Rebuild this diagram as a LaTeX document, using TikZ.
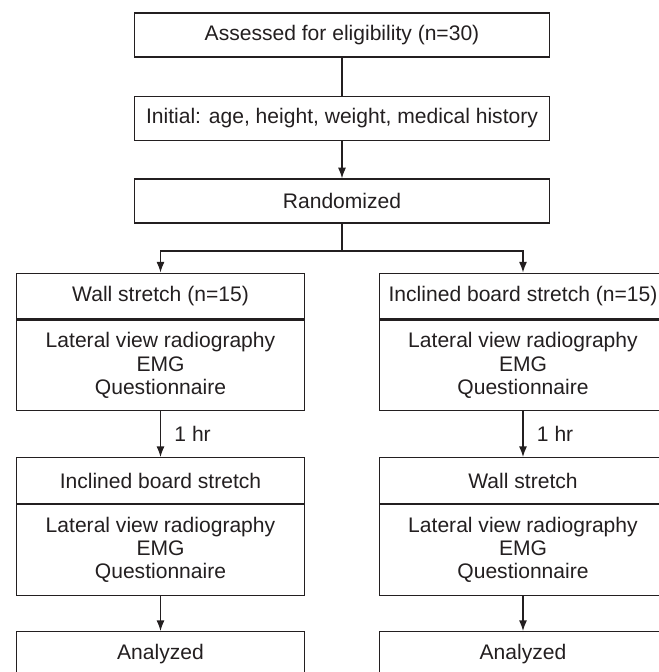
\documentclass[tikz,border=0pt]{standalone}
\usepackage{fontspec}
\setmainfont{Liberation Sans}
\usetikzlibrary{arrows.meta}
\definecolor{ink}{HTML}{231F20}

\begin{document}
\begin{tikzpicture}[x=0.75pt, y=-0.75pt, line width=0.95pt, color=ink,
    font=\fontsize{15.8}{17.4}\selectfont,
    widebox/.style={draw, minimum width=311pt, minimum height=33pt, inner sep=0pt},
    headbox/.style={draw, minimum width=215.5pt, minimum height=34.25pt, inner sep=0pt},
    bodybox/.style={draw, align=center, anchor=north, minimum width=215.5pt, minimum height=68pt, inner sep=0pt},
    arr/.style={-{Latex[length=8pt,width=6pt]}}]
    \useasboundingbox (0,0) rectangle (659,672);
    % Enrolment
    \node[widebox] (assess) at (342,35) {Assessed for eligibility (n=30)};
    \node[widebox] (initial) at (342,118.5) {Initial: age, height, weight, medical history};
    \node[widebox] (random) at (342,201) {Randomized};
    \coordinate (split) at (342,251);
    % First session
    \node[headbox] (wall1) at (160.5,296) {Wall stretch (n=15)};
    \node[bodybox] (wallm1) at (wall1.south) {Lateral view radiography\\EMG\\Questionnaire};
    \node[headbox] (board1) at (523,296) {Inclined board stretch (n=15)};
    \node[bodybox] (boardm1) at (board1.south) {Lateral view radiography\\EMG\\Questionnaire};
    % Second session
    \node[headbox] (board2) at (160.5,480.5) {Inclined board stretch};
    \node[bodybox] (boardm2) at (board2.south) {Lateral view radiography\\EMG\\Questionnaire};
    \node[headbox] (wall2) at (523,480.5) {Wall stretch};
    \node[bodybox] (wallm2) at (wall2.south) {Lateral view radiography\\EMG\\Questionnaire};
    % Analysis
    \node[headbox] (anal1) at (160.5,654.5) {Analyzed};
    \node[headbox] (anal2) at (523,654.5) {Analyzed};
    % Connectors
    \draw (assess) -- (initial);
    \draw[arr] (initial) -- (random);
    \draw (random) -- (split);
    \draw[arr] (split) -| (wall1.north);
    \draw[arr] (split) -| (board1.north);
    \draw[arr] (wallm1) -- node[midway, anchor=west, xshift=7pt, inner sep=3pt] (gap1) {1 hr} (board2);
    \draw[arr] (boardm1) -- node[midway, anchor=west, xshift=7pt, inner sep=3pt] (gap2) {1 hr} (wall2);
    \draw[arr] (boardm2) -- (anal1);
    \draw[arr] (wallm2) -- (anal2);
\end{tikzpicture}
\end{document}
